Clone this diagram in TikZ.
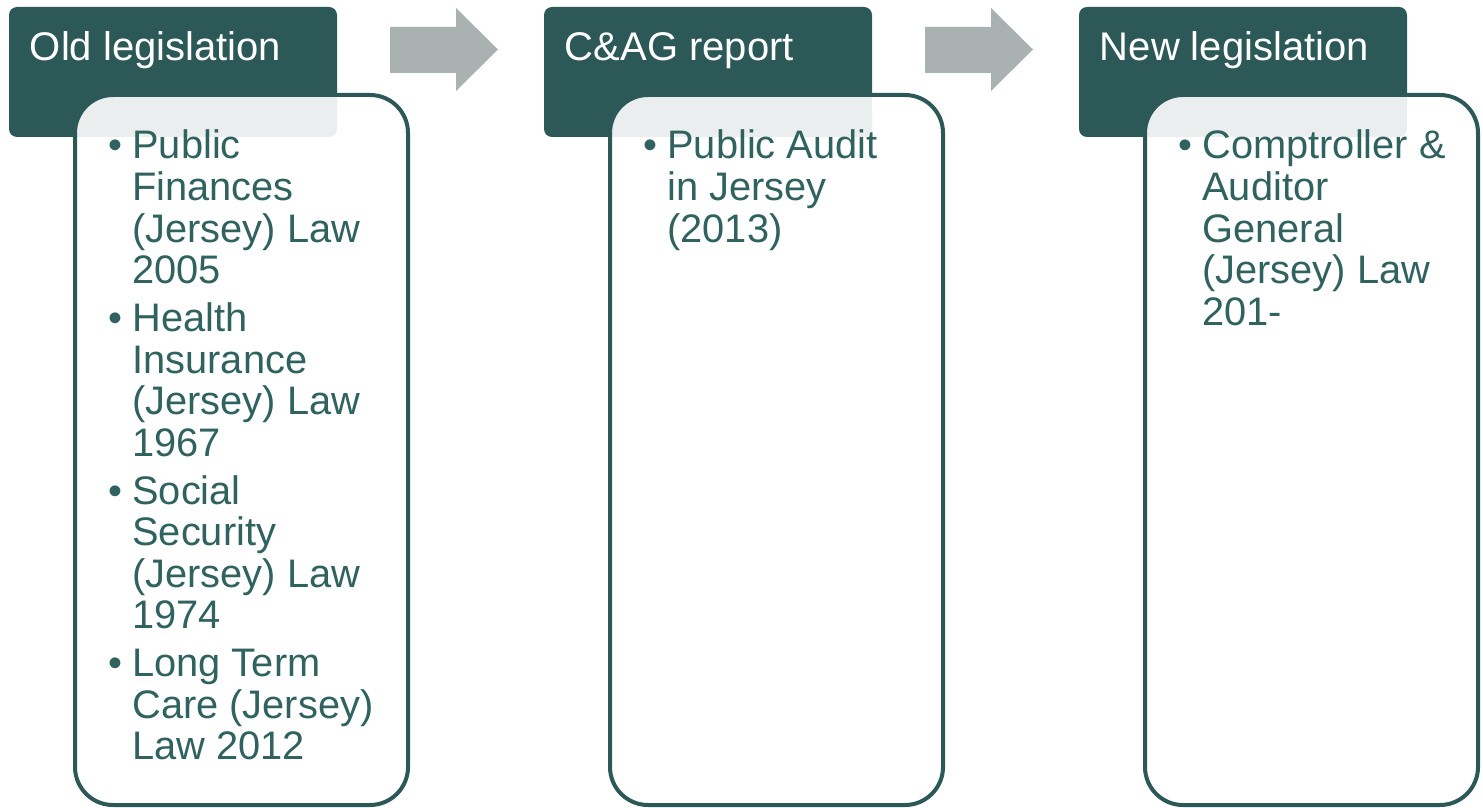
\documentclass[tikz,border=0pt]{standalone}
\usepackage{fontspec}
\setmainfont{Liberation Sans}
\definecolor{panelteal}{HTML}{2C5957}
\definecolor{itemteal}{HTML}{30625F}
\definecolor{arrowgray}{HTML}{A9B2B0}
\tikzset{
	headbox/.style={fill=panelteal, rounded corners=4pt, minimum width=164pt, minimum height=65pt, inner sep=0pt},
	headtext/.style={anchor=base west, inner sep=0pt, text=white, font=\fontsize{20}{21}\selectfont},
	listbox/.style={draw=panelteal, line width=2pt, fill=white, fill opacity=0.9, rounded corners=19pt, minimum width=166.5pt, minimum height=355pt, inner sep=0pt},
	entry/.style={anchor=base west, inner sep=0pt, text=itemteal, font=\fontsize{19.9}{20.75}\selectfont},
	dot/.style={anchor=base west, inner sep=0pt, text=itemteal, font=\fontsize{19.9}{20.75}\selectfont}
}
\begin{document}
\begin{tikzpicture}[x=0.5pt, y=-0.5pt]
\useasboundingbox (0,0) rectangle (1483,808);

\newcommand*{\legpanel}[3]{
	\node[headbox] (#1head) at (173,72) {};
	\node[headtext] (#1title) at (29.5,61) {#2};
	\node[listbox] (#1box) at (241.5,450) {};
	\foreach \txt [count=\i] in {#3} {
		\node[dot] (#1dot\i) at (108,{159+(\i-1)*172.5}) {•};
		\node[entry] (#1item\i) at (132,{159+(\i-1)*172.5}) {\parbox[t]{150pt}{\raggedright\txt}};
	}
}

% arrows between the panels
\foreach \s in {0,267.5} {
	\fill[arrowgray, xshift=\s pt] (390,27) -- (456,27) -- (456,8) -- (498,49.5) -- (456,91) -- (456,73) -- (390,73) -- cycle;
}

\legpanel{old}{Old legislation}{{Public\\Finances\\(Jersey) Law\\2005},{Health\\Insurance\\(Jersey) Law\\1967},{Social\\Security\\(Jersey) Law\\1974},{Long Term\\Care (Jersey)\\Law 2012}}

\begin{scope}[xshift = 267.5pt]
	\legpanel{cag}{C\&AG report}{{Public Audit\\in Jersey\\(2013)}}
\end{scope}

\begin{scope}[xshift = 535pt]
	\legpanel{new}{New legislation}{{Comptroller \&\\Auditor\\General\\(Jersey) Law\\201-}}
\end{scope}

\end{tikzpicture}
\end{document}
